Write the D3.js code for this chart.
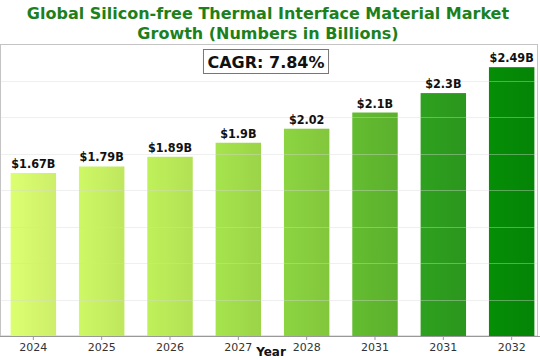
<!DOCTYPE html>
<html>
<head>
<meta charset="utf-8">
<script src="https://cdn.jsdelivr.net/npm/d3@7"></script>
<style>
  html, body { margin: 0; padding: 0; background: #fff; }
  svg { display: block; }
</style>
</head>
<body>
<svg id="chart" width="540" height="360"></svg>
<script>
// ---- data ----
const years = ["2024", "2025", "2026", "2027", "2028", "2031", "2031 ", "2032"];
const tickLabels = ["2024", "2025", "2026", "2027", "2028", "2031", "2031", "2032"];
const values = [1.51, 1.57, 1.66, 1.79, 1.92, 2.07, 2.25, 2.49];
const valueLabels = ["$1.67B", "$1.79B", "$1.89B", "$1.9B", "$2.02", "$2.1B", "$2.3B", "$2.49B"];
const titleLines = ["Global Silicon-free Thermal Interface Material Market", "Growth (Numbers in Billions)"];
const cagrText = "CAGR: 7.84%";
const xTitle = "Year";

// ---- layout ----
const svg = d3.select("#chart");
const plot = { left: 0.5, right: 537.5, top: 44.5, bottom: 336 };
const yMax = 2.7;

const x = d3.scaleBand().domain(years).range([-1, 546]).paddingInner(0.335).paddingOuter(0.17);
const y = d3.scaleLinear().domain([0, yMax]).range([plot.bottom, plot.top]);

const colorScale = d3.scaleLinear()
  .domain([0, 2, 4, 5, 6, 7])
  .range(["#d3f56c", "#b7e756", "#86cc3e", "#5fb52e", "#2c9a1e", "#058806"])
  .interpolate(d3.interpolateRgb);

// gradients per bar
const defs = svg.append("defs");
years.forEach((yr, i) => {
  const c = d3.color(colorScale(i));
  const g = defs.append("linearGradient").attr("id", "g" + i)
    .attr("x1", "0").attr("x2", "1").attr("y1", "0").attr("y2", "0");
  g.append("stop").attr("offset", "0").attr("stop-color", c.brighter(0.12));
  g.append("stop").attr("offset", "1").attr("stop-color", c.darker(0.08));
});

// title
svg.append("g").selectAll("text").data(titleLines).join("text")
  .attr("x", 268).attr("y", (d, i) => 19 + i * 19.5)
  .attr("text-anchor", "middle")
  .attr("font-family", "DejaVu Sans, sans-serif")
  .attr("font-weight", "bold")
  .attr("font-size", 16)
  .attr("fill", "#1c801c")
  .text(d => d);

// frame
svg.append("rect")
  .attr("x", plot.left).attr("y", plot.top)
  .attr("width", plot.right - plot.left).attr("height", plot.bottom - plot.top)
  .attr("fill", "none").attr("stroke", "#c4c4c4").attr("stroke-width", 1);

// bars
svg.append("g").selectAll("rect").data(values).join("rect")
  .attr("x", (d, i) => x(years[i]))
  .attr("width", x.bandwidth())
  .attr("y", d => y(d))
  .attr("height", d => y(0) - y(d))
  .attr("fill", (d, i) => `url(#g${i})`);

// gridlines (on top, translucent)
const gridVals = d3.range(1, 8).map(i => i * yMax / 8);
svg.append("g").selectAll("line").data(gridVals).join("line")
  .attr("x1", plot.left).attr("x2", plot.right)
  .attr("y1", d => Math.round(y(d)) + 0.5).attr("y2", d => Math.round(y(d)) + 0.5)
  .attr("stroke", "#d8d8d8").attr("stroke-opacity", 0.4).attr("stroke-width", 1);

// value labels
svg.append("g").selectAll("text").data(values).join("text")
  .attr("x", (d, i) => x(years[i]) + x.bandwidth() / 2)
  .attr("y", d => y(d) - 5)
  .attr("text-anchor", "middle")
  .attr("font-family", "DejaVu Sans Condensed, DejaVu Sans, sans-serif")
  .attr("font-stretch", "condensed")
  .attr("font-weight", "bold")
  .attr("font-size", 12.5)
  .attr("fill", "#111")
  .text((d, i) => valueLabels[i]);

// x axis
const xAxis = d3.axisBottom(x).tickSize(4).tickPadding(3).tickFormat((d, i) => tickLabels[i]);
const ax = svg.append("g").attr("transform", `translate(0,${plot.bottom})`).call(xAxis);
ax.select(".domain").attr("stroke", "#999");
ax.selectAll(".tick line").attr("stroke", "#999");
ax.selectAll(".tick text")
  .attr("font-family", "DejaVu Sans, sans-serif")
  .attr("font-size", 11)
  .attr("fill", "#333");

// x title
svg.append("text")
  .attr("x", 271).attr("y", 356)
  .attr("text-anchor", "middle")
  .attr("font-family", "DejaVu Sans, sans-serif")
  .attr("font-weight", "bold")
  .attr("font-size", 12)
  .attr("fill", "#111")
  .text(xTitle);

// CAGR box
const cagr = svg.append("g");
const ct = cagr.append("text")
  .attr("x", 266).attr("y", 68)
  .attr("text-anchor", "middle")
  .attr("font-family", "DejaVu Sans, sans-serif")
  .attr("font-weight", "bold")
  .attr("font-size", 16)
  .attr("fill", "#111")
  .text(cagrText);
const bb = ct.node().getBBox();
cagr.insert("rect", "text")
  .attr("x", bb.x - 4).attr("y", 49.5)
  .attr("width", bb.width + 8).attr("height", 24)
  .attr("fill", "#fff").attr("stroke", "#777").attr("stroke-width", 1);
</script>
</body>
</html>
